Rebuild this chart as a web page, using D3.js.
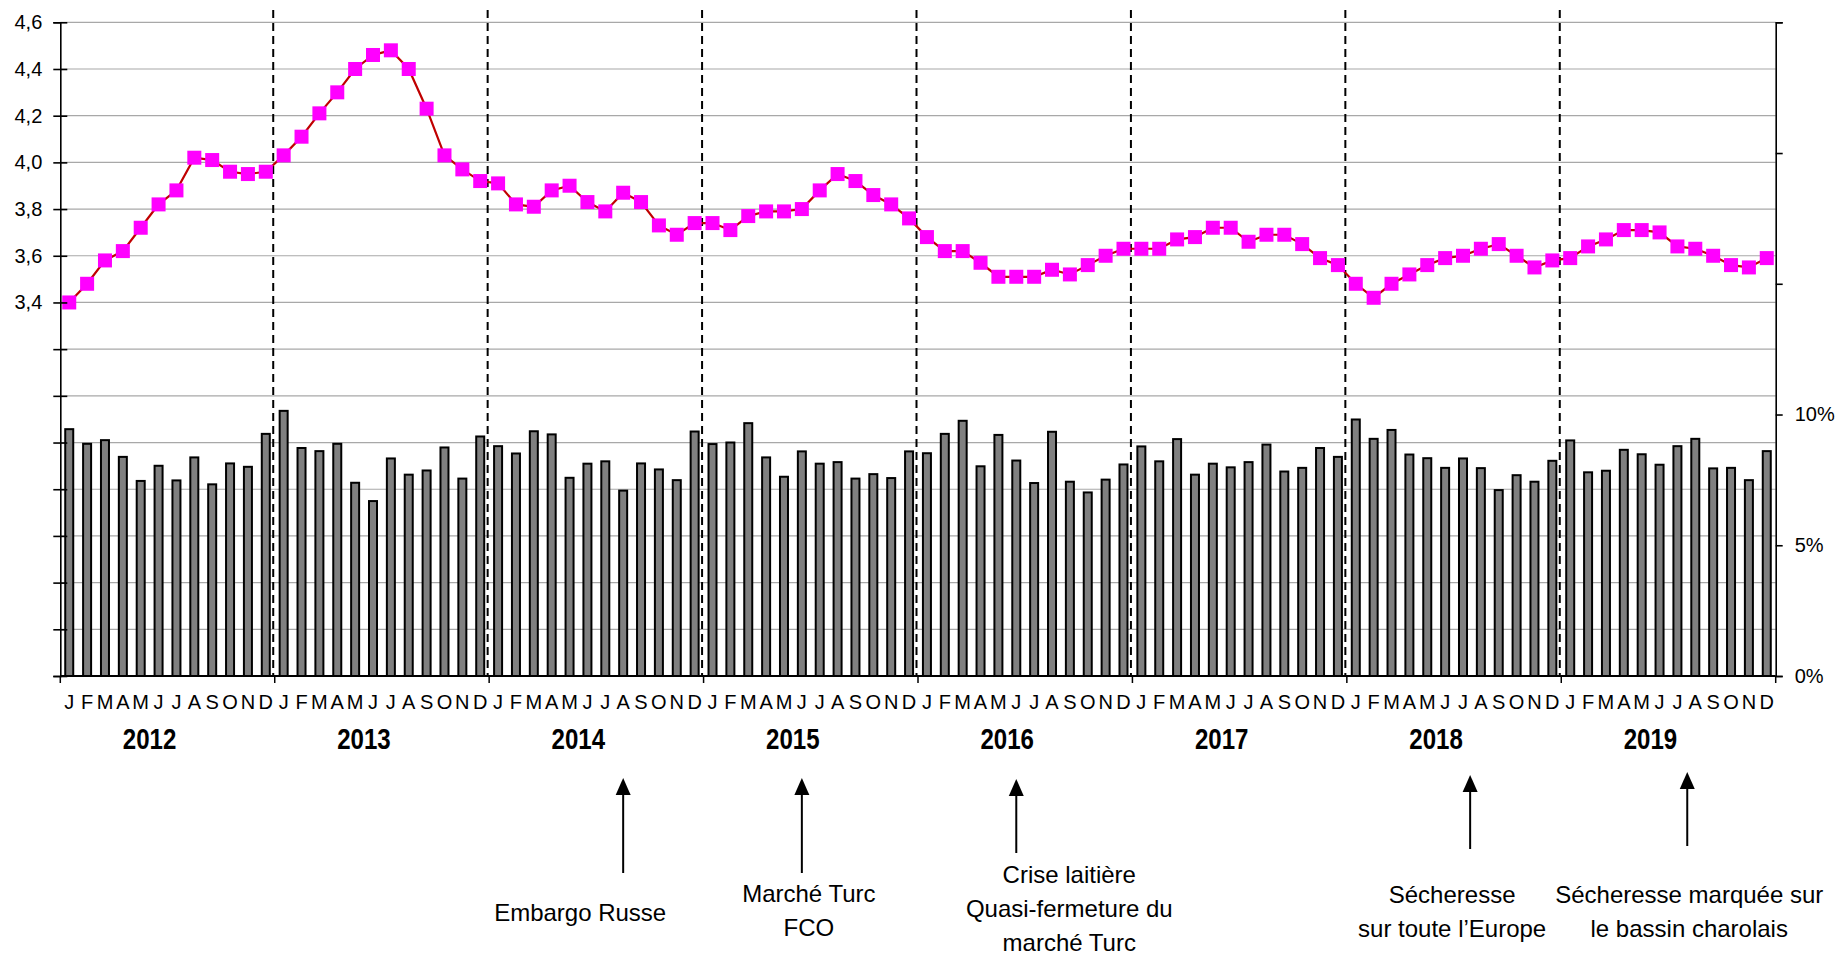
<!DOCTYPE html>
<html>
<head>
<meta charset="utf-8">
<script src="https://cdn.jsdelivr.net/npm/d3@7/dist/d3.min.js"></script>
<style>
  body { margin: 0; background: #fff; }
  svg text { font-family: 'Liberation Sans', Arial, sans-serif; fill: #000; }
</style>
</head>
<body>
<svg id="chart" width="1840" height="959"></svg>
<script>
const years = ['2012', '2013', '2014', '2015', '2016', '2017', '2018', '2019']
const monthLetters = ['J', 'F', 'M', 'A', 'M', 'J', 'J', 'A', 'S', 'O', 'N', 'D']

// price line (left axis), one value per month from Jan 2012
const prices = [
  3.40, 3.48, 3.58, 3.62, 3.72, 3.82, 3.88, 4.02, 4.01, 3.96, 3.95, 3.96,
  4.03, 4.11, 4.21, 4.30, 4.40, 4.46, 4.48, 4.40, 4.23, 4.03, 3.97, 3.92,
  3.91, 3.82, 3.81, 3.88, 3.90, 3.83, 3.79, 3.87, 3.83, 3.73, 3.69, 3.74,
  3.74, 3.71, 3.77, 3.79, 3.79, 3.80, 3.88, 3.95, 3.92, 3.86, 3.82, 3.76,
  3.68, 3.62, 3.62, 3.57, 3.51, 3.51, 3.51, 3.54, 3.52, 3.56, 3.60, 3.63,
  3.63, 3.63, 3.67, 3.68, 3.72, 3.72, 3.66, 3.69, 3.69, 3.65, 3.59, 3.56,
  3.48, 3.42, 3.48, 3.52, 3.56, 3.59, 3.60, 3.63, 3.65, 3.60, 3.55, 3.58,
  3.59, 3.64, 3.67, 3.71, 3.71, 3.70, 3.64, 3.63, 3.60, 3.56, 3.55, 3.59
]

// monthly share in % (right axis)
const shares = [
  9.44, 8.88, 9.02, 8.38, 7.46, 8.04, 7.48, 8.36, 7.33, 8.13, 8.00, 9.26,
  10.14, 8.72, 8.60, 8.88, 7.39, 6.69, 8.32, 7.70, 7.86, 8.74, 7.55, 9.16,
  8.79, 8.51, 9.36, 9.24, 7.58, 8.12, 8.21, 7.09, 8.13, 7.90, 7.49, 9.35,
  8.87, 8.93, 9.67, 8.36, 7.62, 8.59, 8.12, 8.18, 7.55, 7.72, 7.57, 8.59,
  8.52, 9.26, 9.76, 8.02, 9.22, 8.24, 7.38, 9.34, 7.43, 7.02, 7.51, 8.09,
  8.78, 8.21, 9.06, 7.70, 8.12, 7.98, 8.18, 8.85, 7.82, 7.96, 8.72, 8.38,
  9.81, 9.07, 9.41, 8.47, 8.33, 7.96, 8.32, 7.95, 7.11, 7.68, 7.43, 8.23,
  9.01, 7.79, 7.85, 8.65, 8.48, 8.08, 8.79, 9.07, 7.94, 7.96, 7.49, 8.60
]

const leftTicks = [1.8, 2.0, 2.2, 2.4, 2.6, 2.8, 3.0, 3.2, 3.4, 3.6, 3.8, 4.0, 4.2, 4.4, 4.6]
const rightTicks = [0, 5, 10, 15, 20, 25]

// events: month index (from Jan 2012) and label lines
const eventMonths = [31, 41, 53, 78.4, 90.55]
const eventLabels = [
  ['Embargo Russe'],
  ['Marché Turc', 'FCO'],
  ['Crise laitière', 'Quasi-fermeture du', 'marché Turc'],
  ['Sécheresse', 'sur toute l’Europe'],
  ['Sécheresse marquée sur', 'le bassin charolais']
]

// layout of the annotations (label offset, arrow tip / foot, first baseline)
const eventLayout = [
  { dx: -43, tip: 778, foot: 873, base: 921 },
  { dx: 7, tip: 778, foot: 873, base: 902 },
  { dx: 53, tip: 779, foot: 853, base: 883 },
  { dx: -18, tip: 775, foot: 849, base: 903 },
  { dx: 2, tip: 772, foot: 846, base: 903 }
]

const plot = { left: 60.3, right: 1775.7, top: 22.3, bottom: 676 }

const svg = d3.select('#chart')

const n = prices.length
const x = d3.scaleBand().domain(d3.range(n)).range([plot.left, plot.right])
const bw = x.bandwidth()
const xm = d3.scaleLinear().domain([0, n]).range([plot.left, plot.right])
const yL = d3.scaleLinear().domain([1.8, 4.6]).range([plot.bottom, plot.top])
const yR = d3.scaleLinear().domain([0, 25]).range([plot.bottom, plot.top])

// gridlines
svg.append('g')
  .selectAll('line')
  .data(leftTicks.filter((d) => d > 1.8))
  .enter()
  .append('line')
  .attr('x1', plot.left)
  .attr('x2', plot.right)
  .attr('y1', (d) => yL(d))
  .attr('y2', (d) => yL(d))
  .attr('stroke', '#a8a8a8')
  .attr('stroke-width', 1.2)

// bars
svg.append('g')
  .selectAll('rect')
  .data(shares)
  .enter()
  .append('rect')
  .attr('x', (d, i) => x(i) + bw / 2 - 4)
  .attr('y', (d) => yR(d))
  .attr('width', 8)
  .attr('height', (d) => yR(0) - yR(d))
  .attr('fill', '#808080')
  .attr('stroke', '#000')
  .attr('stroke-width', 2)

// year separators
svg.append('g')
  .selectAll('line')
  .data(d3.range(1, years.length))
  .enter()
  .append('line')
  .attr('x1', (k) => xm(k * 12) - 1.5)
  .attr('x2', (k) => xm(k * 12) - 1.5)
  .attr('y1', 10)
  .attr('y2', plot.bottom)
  .attr('stroke', '#000')
  .attr('stroke-width', 2)
  .attr('stroke-dasharray', '8,5')

// price line + markers
svg.append('path')
  .datum(prices)
  .attr('fill', 'none')
  .attr('stroke', '#c00000')
  .attr('stroke-width', 2.2)
  .attr('d', d3.line().x((d, i) => x(i) + bw / 2).y((d) => yL(d)))

svg.append('g')
  .selectAll('rect')
  .data(prices)
  .enter()
  .append('rect')
  .attr('x', (d, i) => x(i) + bw / 2 - 7)
  .attr('y', (d) => yL(d) - 7)
  .attr('width', 14)
  .attr('height', 14)
  .attr('fill', '#ff00ff')

// left axis
const fmtL = (v) => (v >= 3.4 ? d3.format('.1f')(v).replace('.', ',') : '')
const gL = svg.append('g')
  .attr('transform', `translate(${plot.left},0)`)
  .call(d3.axisLeft(yL).tickValues(leftTicks).tickFormat(fmtL).tickSizeOuter(0).tickSize(7).tickPadding(11))
gL.selectAll('.tick line').attr('x1', -7).attr('x2', 7)

// right axis
const gR = svg.append('g')
  .attr('transform', `translate(${plot.right},0)`)
  .call(d3.axisRight(yR).tickValues(rightTicks).tickFormat((v) => (v <= 10 ? v + '%' : '')).tickSizeOuter(0).tickSize(7).tickPadding(12))

svg.selectAll('.domain, .tick line').attr('stroke', '#000').attr('stroke-width', 1.6)
svg.selectAll('.tick text').attr('font-size', 20).attr('font-family', null)

// x axis baseline with year ticks
svg.append('line')
  .attr('x1', plot.left)
  .attr('x2', plot.right)
  .attr('y1', plot.bottom)
  .attr('y2', plot.bottom)
  .attr('stroke', '#000')
  .attr('stroke-width', 2)

svg.append('g')
  .selectAll('line')
  .data(d3.range(0, years.length + 1))
  .enter()
  .append('line')
  .attr('x1', (k) => xm(k * 12))
  .attr('x2', (k) => xm(k * 12))
  .attr('y1', plot.bottom)
  .attr('y2', plot.bottom + 7)
  .attr('stroke', '#000')
  .attr('stroke-width', 1.5)

// month letters
svg.append('g')
  .selectAll('text')
  .data(d3.range(n))
  .enter()
  .append('text')
  .attr('x', (i) => x(i) + bw / 2)
  .attr('y', 709)
  .attr('text-anchor', 'middle')
  .attr('font-size', 20)
  .text((i) => monthLetters[i % 12])

// year labels (bold, narrow)
svg.append('g')
  .selectAll('text')
  .data(years)
  .enter()
  .append('text')
  .attr('transform', (d, k) => `translate(${xm(k * 12 + 6) - 18},749) scale(0.83,1)`)
  .attr('text-anchor', 'middle')
  .attr('font-size', 29)
  .attr('font-weight', 'bold')
  .text((d) => d)

// annotations
const ev = svg.append('g')
eventMonths.forEach((m, k) => {
  const L = eventLayout[k]
  const ax = xm(m + 0.5)
  ev.append('line')
    .attr('x1', ax).attr('x2', ax)
    .attr('y1', L.foot).attr('y2', L.tip + 14)
    .attr('stroke', '#000').attr('stroke-width', 2)
  ev.append('path')
    .attr('d', `M${ax},${L.tip}L${ax + 7.5},${L.tip + 17}L${ax - 7.5},${L.tip + 17}Z`)
    .attr('fill', '#000')
  const t = ev.append('text')
    .attr('text-anchor', 'middle')
    .attr('font-size', 24)
  eventLabels[k].forEach((line, j) => {
    t.append('tspan')
      .attr('x', ax + L.dx)
      .attr('y', L.base + j * 34)
      .text(line)
  })
})
</script>
</body>
</html>
